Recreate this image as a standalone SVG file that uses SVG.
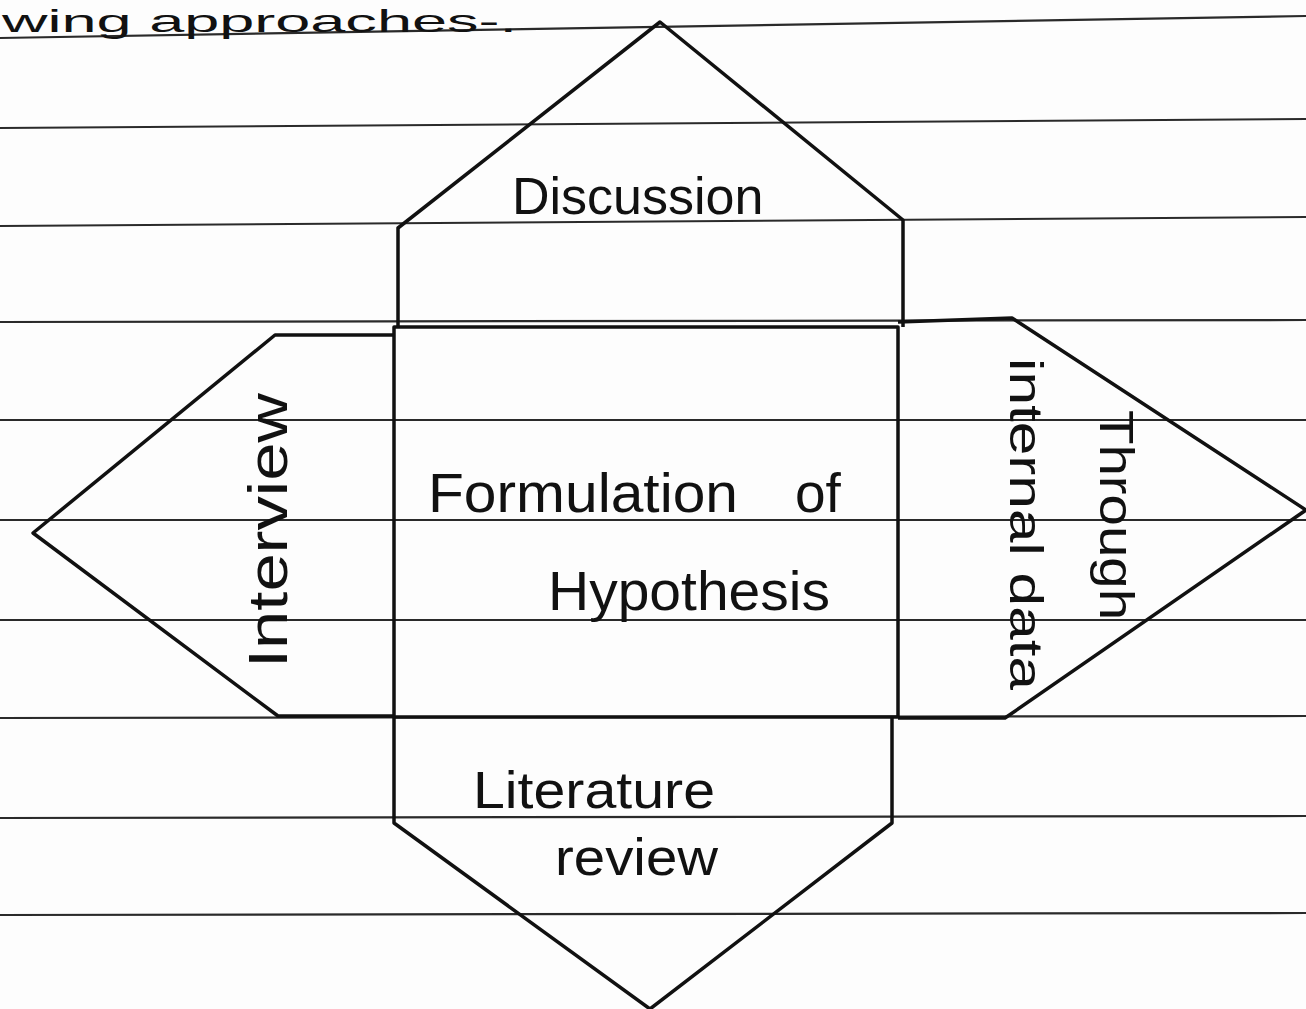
<svg xmlns="http://www.w3.org/2000/svg" width="1306" height="1009" viewBox="0 0 1306 1009">
<style>
.rule{stroke:#2a2a2a;stroke-width:2.2;fill:none}
.shape{stroke:#111;stroke-width:3.5;fill:none;stroke-linejoin:round}
.t{font-family:"Liberation Sans",Arial,sans-serif;fill:#111}
</style>
<rect width="1306" height="1009" fill="#fdfdfd"/>
<g id="rules">
<line class="rule" x1="0" y1="38" x2="1306" y2="16"/>
<line class="rule" x1="0" y1="128" x2="1306" y2="119"/>
<line class="rule" x1="0" y1="226" x2="1306" y2="217"/>
<line class="rule" x1="0" y1="322" x2="1306" y2="320"/>
<line class="rule" x1="0" y1="420" x2="1306" y2="420"/>
<line class="rule" x1="0" y1="520" x2="1306" y2="520"/>
<line class="rule" x1="0" y1="620" x2="1306" y2="620"/>
<line class="rule" x1="0" y1="718" x2="1306" y2="716"/>
<line class="rule" x1="0" y1="818" x2="1306" y2="816"/>
<line class="rule" x1="0" y1="915" x2="1306" y2="913"/>
</g>
<text class="t" x="2" y="32" font-size="32" textLength="515" lengthAdjust="spacingAndGlyphs">wing approaches-.</text>
<g id="connectors"></g>
<g id="center">
<rect class="shape" x="394" y="327" width="504" height="390"/>
<text class="t" x="428" y="512" font-size="55" textLength="310" lengthAdjust="spacingAndGlyphs">Formulation</text>
<text class="t" x="795" y="512" font-size="55">of</text>
<text class="t" x="548" y="610" font-size="55" textLength="282" lengthAdjust="spacingAndGlyphs">Hypothesis</text>
</g>
<g id="discussion">
<polyline class="shape" points="398,327 398,228 660,22 903,220 903,327"/>
<text class="t" x="512" y="214" font-size="52">Discussion</text>
</g>
<g id="interview">
<polyline class="shape" points="394,335 275,335 33,533 278,716 394,716"/>
<text class="t" font-size="56" transform="translate(287,668) rotate(-90)" textLength="275" lengthAdjust="spacingAndGlyphs">Interview</text>
</g>
<g id="internal">
<polyline class="shape" points="898,322 1012,318 1306,510 1005,718 898,718"/>
<text class="t" font-size="48" transform="translate(1100,410) rotate(90)" textLength="210" lengthAdjust="spacingAndGlyphs">Through</text>
<text class="t" font-size="46" transform="translate(1010,358) rotate(90)" textLength="332" lengthAdjust="spacingAndGlyphs">internal data</text>
</g>
<g id="literature">
<polyline class="shape" points="394,717 394,823 650,1009 892,823 892,717"/>
<text class="t" x="473" y="808" font-size="52" textLength="242" lengthAdjust="spacingAndGlyphs">Literature</text>
<text class="t" x="555" y="875" font-size="52" textLength="163" lengthAdjust="spacingAndGlyphs">review</text>
</g>
</svg>
